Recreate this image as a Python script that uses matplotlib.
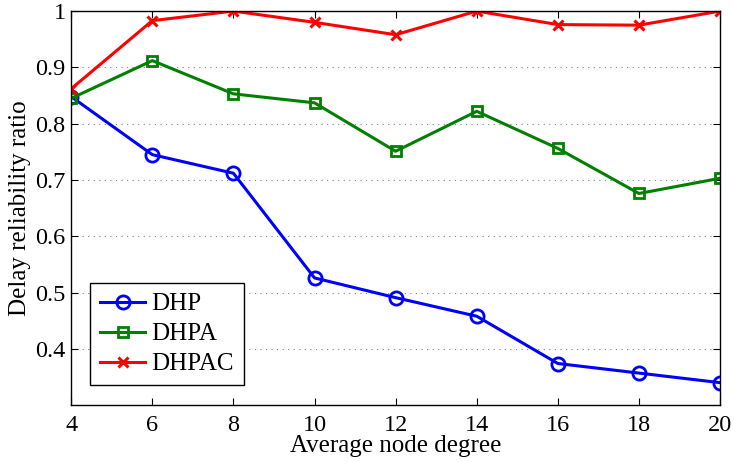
import matplotlib
matplotlib.use("Agg")
import matplotlib.pyplot as plt

plt.rcParams['font.family'] = ['Liberation Serif', 'DejaVu Serif']

degree = [4, 6, 8, 10, 12, 14, 16, 18, 20]
dhp = [0.848, 0.745, 0.712, 0.526, 0.491, 0.458, 0.374, 0.357, 0.340]
dhpa = [0.845, 0.912, 0.853, 0.837, 0.751, 0.822, 0.756, 0.676, 0.703]
dhpac = [0.862, 0.983, 1.0, 0.980, 0.958, 1.0, 0.976, 0.975, 1.0]

fig = plt.figure(figsize=(7.34, 4.62), dpi=100)
ax = fig.add_axes([0.097, 0.123, 0.884, 0.853])

ax.plot(degree, dhp, color='blue', lw=2.2, marker='o', ms=9.5, mfc='none', mew=2, label='DHP')
ax.plot(degree, dhpa, color='green', lw=2.2, marker='s', ms=7.5, mfc='none', mew=2, label='DHPA')
ax.plot(degree, dhpac, color='red', lw=2.2, marker='x', ms=7, mew=2.2, label='DHPAC')

ax.set_xlim(4, 20)
ax.set_ylim(0.3, 1.0)
ax.set_xticks(degree)
ax.set_yticks([0.4, 0.5, 0.6, 0.7, 0.8, 0.9, 1.0])
ax.set_yticklabels(['0.4', '0.5', '0.6', '0.7', '0.8', '0.9', '1'])
ax.yaxis.grid(True, linestyle=(0, (1, 4)), color='#808080', lw=0.8)
ax.tick_params(direction='in', top=True, right=True, labelsize=17.5, length=5)
ax.tick_params(axis='x', pad=7)
ax.tick_params(axis='y', pad=4)
for s in ax.spines.values():
    s.set_linewidth(1.0)

ax.set_xlabel('Average node degree', fontsize=18, labelpad=-1)
ax.set_ylabel('Delay reliability ratio', fontsize=18, labelpad=3)

leg = ax.legend(loc='lower left', bbox_to_anchor=(0.029, 0.05), fontsize=18,
                fancybox=False, edgecolor='black', framealpha=1, handlelength=1.8,
                borderpad=0.4, labelspacing=0.3, handletextpad=0.25, borderaxespad=0)
leg.get_frame().set_linewidth(1.0)

fig.savefig('out.png', dpi=100)
